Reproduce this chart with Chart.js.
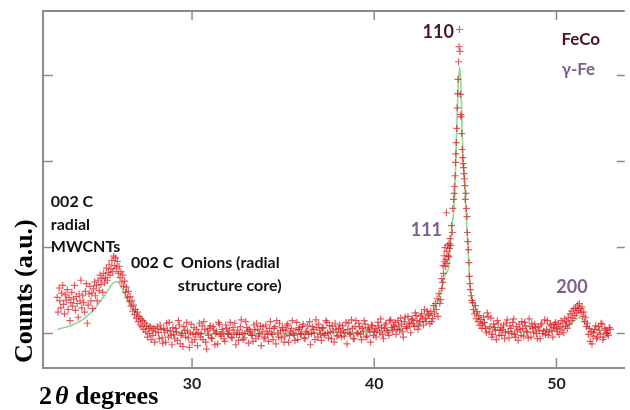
<!DOCTYPE html>
<html><head><meta charset="utf-8">
<script src="https://cdn.jsdelivr.net/npm/chart.js@4/dist/chart.umd.min.js"></script>
<style>html,body{margin:0;padding:0;background:#fff}#wrap{width:630px;height:410px;position:relative}</style>
</head><body><div id="wrap"><canvas id="c" width="630" height="410"></canvas></div>
<script>
// ---- data (2θ in degrees, counts in arbitrary units) ----
const scanAngles = [
 22.60,22.65,22.70,22.75,22.80,22.85,22.90,22.95,23.00,23.05,
 23.10,23.15,23.20,23.25,23.30,23.35,23.40,23.45,23.50,23.55,
 23.60,23.65,23.70,23.75,23.80,23.85,23.90,23.95,24.00,24.05,
 24.10,24.15,24.20,24.25,24.30,24.35,24.40,24.45,24.50,24.55,
 24.60,24.65,24.70,24.75,24.80,24.85,24.90,24.95,25.00,25.05,
 25.10,25.15,25.20,25.25,25.30,25.35,25.40,25.45,25.50,25.55,
 25.60,25.65,25.70,25.75,25.80,25.85,25.90,25.95,26.00,26.05,
 26.10,26.15,26.20,26.25,26.30,26.35,26.40,26.45,26.50,26.55,
 26.60,26.65,26.70,26.75,26.80,26.85,26.90,26.95,27.00,27.05,
 27.10,27.15,27.20,27.25,27.30,27.35,27.40,27.45,27.50,27.55,
 27.60,27.65,27.70,27.75,27.80,27.85,27.90,27.95,28.00,
 28.1,28.2,28.3,28.4,28.5,28.6,28.7,28.8,28.9,29.0,
 29.1,29.2,29.3,29.4,29.5,29.6,29.7,29.8,29.9,30.0,
 30.1,30.2,30.3,30.4,30.5,30.6,30.7,30.8,30.9,31.0,
 31.1,31.2,31.3,31.4,31.5,31.6,31.7,31.8,31.9,32.0,
 32.1,32.2,32.3,32.4,32.5,32.6,32.7,32.8,32.9,33.0,
 33.1,33.2,33.3,33.4,33.5,33.6,33.7,33.8,33.9,34.0,
 34.1,34.2,34.3,34.4,34.5,34.6,34.7,34.8,34.9,35.0,
 35.1,35.2,35.3,35.4,35.5,35.6,35.7,35.8,35.9,36.0,
 36.1,36.2,36.3,36.4,36.5,36.6,36.7,36.8,36.9,37.0,
 37.1,37.2,37.3,37.4,37.5,37.6,37.7,37.8,37.9,38.0,
 38.1,38.2,38.3,38.4,38.5,38.6,38.7,38.8,38.9,39.0,
 39.1,39.2,39.3,39.4,39.5,39.6,39.7,39.8,39.9,40.0,
 40.1,40.2,40.3,40.4,40.5,40.6,40.7,40.8,40.9,41.0,
 41.1,41.2,41.3,41.4,41.5,41.6,41.7,41.8,41.9,42.0,
 42.1,42.2,42.3,42.4,42.5,42.6,42.7,42.8,42.9,
 43.00,43.05,43.10,43.15,43.20,43.25,43.30,43.35,43.40,43.45,
 43.50,43.55,43.60,43.65,43.70,43.72,43.75,43.78,43.80,43.83,
 43.85,43.88,43.90,43.93,43.96,43.98,44.00,44.03,44.06,44.08,
 44.10,44.13,44.16,44.20,44.24,44.28,44.31,44.35,44.38,44.40,
 44.43,44.46,44.48,44.50,44.525,44.55,44.575,44.60,44.625,44.65,
 44.675,44.70,44.725,44.75,44.775,44.80,44.825,44.85,44.875,44.90,
 44.925,44.95,44.975,45.00,45.03,45.06,45.09,45.11,45.14,45.17,
 45.20,45.22,45.25,45.28,45.32,45.36,45.39,45.44,45.50,45.55,
 45.60,45.65,45.70,45.75,45.80,45.85,45.90,45.95,
 46.0,46.1,46.2,46.3,46.4,46.5,46.6,46.7,46.8,46.9,
 47.0,47.1,47.2,47.3,47.4,47.5,47.6,47.7,47.8,47.9,
 48.0,48.1,48.2,48.3,48.4,48.5,48.6,48.7,48.8,48.9,
 49.0,49.1,49.2,49.3,49.4,49.5,49.6,49.7,49.8,49.9,
 50.0,
 50.05,50.10,50.15,50.20,50.25,50.30,50.35,50.40,50.45,50.50,
 50.55,50.60,50.65,50.70,50.75,50.80,50.85,50.90,50.95,51.00,
 51.05,51.10,51.15,51.20,51.25,51.30,51.35,51.40,51.45,51.50,
 51.55,51.60,51.65,51.70,51.75,51.80,51.85,51.90,51.95,52.00,
 52.1,52.2,52.3,52.4,52.5,52.6,52.7,52.8,52.9,
 28.15,28.25,28.35,28.45,28.55,28.65,28.75,28.85,28.95,29.05,
 29.15,29.25,29.35,29.45,29.55,29.65,29.75,29.85,29.95,30.05,
 30.15,30.25,30.35,30.45,30.55,30.65,30.75,30.85,30.95,31.05,
 31.15,31.25,31.35,31.45,31.55,31.65,31.75,31.85,31.95,32.05,
 32.15,32.25,32.35,32.45,32.55,32.65,32.75,32.85,32.95,33.05,
 33.15,33.25,33.35,33.45,33.55,33.65,33.75,33.85,33.95,34.05,
 34.15,34.25,34.35,34.45,34.55,34.65,34.75,34.85,34.95,35.05,
 35.15,35.25,35.35,35.45,35.55,35.65,35.75,35.85,35.95,36.05,
 36.15,36.25,36.35,36.45,36.55,36.65,36.75,36.85,36.95,37.05,
 37.15,37.25,37.35,37.45,37.55,37.65,37.75,37.85,37.95,38.05,
 38.15,38.25,38.35,38.45,38.55,38.65,38.75,38.85,38.95,39.05,
 39.15,39.25,39.35,39.45,39.55,39.65,39.75,39.85,39.95,40.05,
 40.15,40.25,40.35,40.45,40.55,40.65,40.75,40.85,40.95,41.05,
 41.15,41.25,41.35,41.45,41.55,41.65,41.75,41.85,41.95,42.05,
 42.15,42.25,42.35,42.45,42.55,42.65,42.75,42.85,42.95,
 46.05,46.15,46.25,46.35,46.45,46.55,46.65,46.75,46.85,46.95,
 47.05,47.15,47.25,47.35,47.45,47.55,47.65,47.75,47.85,47.95,
 48.05,48.15,48.25,48.35,48.45,48.55,48.65,48.75,48.85,48.95,
 49.05,49.15,49.25,49.35,49.45,49.55,49.65,49.75,49.85,49.95,
 52.05,52.15,52.25,52.35,52.45,52.55,52.65,52.75,52.85,52.95
];
const scanCounts = [
 1420,1250,1530,1380,1300,1470,1560,1340,1230,1450,
 1390,1510,1280,1420,1150,1360,1480,1320,1400,1560,
 1270,1430,1350,1190,1460,1380,1620,1300,1440,1360,
 1250,1490,1580,1120,1330,1460,1550,1380,1470,1290,
 1520,1600,1440,1560,1380,1620,1500,1680,1570,1640,
 1480,1700,1590,1650,1760,1620,1710,1800,1680,1750,
 1850,1720,1900,1790,1880,1760,1840,1700,1780,1650,
 1720,1600,1680,1550,1610,1480,1540,1420,1490,1370,
 1430,1320,1380,1260,1330,1220,1280,1180,1250,1140,
 1200,1100,1170,1080,1150,1050,1120,1020,1090,960,
 1060,1000,1080,930,1040,980,1060,900,1020,
 1080,940,1050,890,1010,1120,960,1030,870,990,
 1060,920,1100,980,850,1040,1130,950,1010,900,
 1070,990,860,1120,1000,930,1050,820,980,1090,
 940,1040,1000,880,1110,970,1020,910,1060,990,
 1130,950,1010,870,1040,990,1160,930,1000,1070,
 890,1020,980,1100,940,1050,1000,860,1080,960,
 1030,910,1140,990,1060,880,1010,1120,950,1040,
 970,1090,900,1020,1150,980,1040,930,1070,1000,
 1110,940,1030,990,870,1080,1010,1160,960,1040,
 920,1070,1000,1130,950,1020,1090,900,1050,980,
 1100,960,1040,1010,880,1120,990,1060,940,1150,
 1000,1080,930,1030,1110,970,1050,900,1090,1020,
 960,1130,1010,1070,940,1100,1040,980,1160,1030,
 1080,990,1150,1040,1110,960,1190,1060,1120,1010,
 1170,1080,1210,1050,1140,1230,1100,1180,1260,
 1210,1115,1255,1140,1175,1325,1230,1350,1280,1405,
 1200,1465,1350,1395,1640,1525,1595,1790,1700,1905,
 1835,2000,1780,1860,2405,1955,1815,2025,1905,1895,
 2045,1990,2105,2025,2255,2175,2455,2560,2630,2710,
 2835,2990,3090,3220,3385,3625,3790,3955,4160,4335,
 4535,4280,3780,3545,3520,3325,3140,3045,2975,2930,
 2860,2800,2720,2560,2630,2455,2360,2175,2070,1975,
 1825,1665,1580,1510,1440,1385,1360,1280,1230,1325,
 1175,1255,1140,1210,1095,1165,1060,1115,
 1190,1060,1240,1020,1180,990,1070,930,1120,1040,
 980,1100,1010,1160,950,1060,1130,990,1080,920,
 1050,1140,970,1090,1010,1170,960,1060,1110,1000,
 1080,940,1120,1030,990,1150,1020,1090,960,1110,
 1060,
 1020,1110,990,1080,1150,1040,1120,1010,1170,1090,
 1140,1060,1190,1110,1230,1150,1260,1180,1290,1210,
 1300,1240,1330,1270,1350,1290,1250,1310,1200,1250,
 1140,1190,1080,1120,990,1060,910,1020,880,970,
 1050,940,1080,990,1110,960,1040,1000,1070,
 1010,1100,950,1060,900,1040,1130,980,1070,940,
 1020,1150,880,1000,1080,960,1030,840,1110,990,
 930,1050,1010,960,1090,1140,900,1030,1060,950,
 1080,870,1020,1130,990,1050,940,1100,1000,1040,
 960,1070,1120,990,920,1080,1010,950,1140,1030,
 1050,980,910,1040,1120,970,1090,1020,940,1100,
 990,1060,1010,930,1080,1150,960,1030,1070,900,
 1040,1110,980,1060,1000,920,1130,1050,990,1080,
 950,1020,1090,1140,1000,1050,930,1070,1110,990,
 1060,980,1150,1010,1090,940,1030,1120,970,1060,
 1020,1090,970,1130,1050,1000,1160,940,1080,1010,
 1120,990,1060,1150,960,1070,1030,1100,980,1060,
 1040,1090,1170,990,1060,1120,1010,1150,1070,1100,
 1130,1050,1090,1180,1020,1140,1080,1200,1110,1160,
 1120,1240,1150,1090,1200,1170,1280,1140,1230,
 1130,1010,1200,1080,960,1110,1040,1150,980,1070,
 1050,940,1120,1020,1090,1000,1170,960,1040,1110,
 980,1060,1130,1030,950,1080,1120,1010,1070,940,
 1040,1100,1000,1160,1050,980,1110,1030,1070,1130,
 1010,1090,960,1040,1120,930,1060,1010,980,1050
];
const fitAngles = [
 22.6,23.0,23.5,24.0,24.5,25.0,25.3,25.6,25.8,25.95,
 26.1,26.3,26.6,27.0,27.4,27.8,28.2,28.8,29.5,30.5,
 32,34,36,38,40,41,42,42.5,43.0,43.47,
 43.7,43.9,44.08,44.2,44.3,44.41,44.52,44.6,44.69,44.76,
 44.83,44.92,45.0,45.1,45.2,45.28,45.4,45.55,45.7,46.0,
 46.5,47,48,49,49.8,50.3,50.7,51.0,51.2,51.35,
 51.55,51.8,52.1,52.5,52.9
];
const fitCounts = [
 1047,1070,1105,1163,1255,1384,1475,1570,1605,1600,
 1545,1460,1350,1230,1145,1090,1055,1025,1010,1000,
 995,995,1000,1010,1020,1040,1080,1115,1190,1360,
 1530,1690,1770,2100,2300,2560,3320,3850,4100,3850,
 3320,2900,2560,2170,1750,1510,1390,1300,1200,1100,
 1050,1030,1020,1025,1040,1065,1100,1150,1185,1180,
 1120,1050,1015,1005,1000
];
const xTickValues = [30, 40, 50];
const yTickValues = [1000, 2000, 3000, 4000];
const peakLabels = ['002 C', 'radial', 'MWCNTs', '002 C  Onions (radial', 'structure core)', '110', '111', '200', 'FeCo', 'γ-Fe'];
const yTitle = 'Counts (a.u.)';
const xTitleParts = ['2', 'θ', ' degrees'];

// ---- layout / style (kept apart from the data) ----
const labelLayout = [
 {angle:22.25, count:2472, size:16, color:'#111'},
 {angle:22.25, count:2204, size:16, color:'#111'},
 {angle:22.25, count:1949, size:16, color:'#111'},
 {angle:26.65, count:1763, size:16, color:'#111'},
 {angle:29.21, count:1495, size:16, color:'#111'},
 {angle:42.65, count:4436, size:18, color:'#4a1526'},
 {angle:42.0,  count:2135, size:18, color:'#7d5f8f'},
 {angle:49.99, count:1472, size:18, color:'#7d5f8f'},
 {angle:50.27, count:4355, size:17, color:'#4a1526'},
 {angle:50.27, count:4006, size:17, color:'#7d5f8f'}
];
const AXIS = '#8c8c8c';

const decor = {
 id:'decor',
 afterDraw(chart){
  const {ctx, chartArea:a, scales:{x, y}} = chart;
  ctx.save();
  ctx.strokeStyle = AXIS;
  ctx.lineWidth = 2;
  ctx.beginPath(); ctx.moveTo(a.left - 1, a.top); ctx.lineTo(a.right, a.top); ctx.stroke();
  ctx.lineWidth = 1.5;
  yTickValues.forEach(v => {
   const p = y.getPixelForValue(v);
   ctx.beginPath();
   ctx.moveTo(a.left, p); ctx.lineTo(a.left + 10, p);
   ctx.moveTo(a.right, p); ctx.lineTo(a.right - 8, p);
   ctx.stroke();
  });
  xTickValues.forEach(v => {
   const p = x.getPixelForValue(v);
   ctx.beginPath();
   ctx.moveTo(p, a.bottom); ctx.lineTo(p, a.bottom - 10);
   ctx.moveTo(p, a.top); ctx.lineTo(p, a.top + 9);
   ctx.stroke();
  });
  ctx.textAlign = 'left'; ctx.textBaseline = 'alphabetic';
  peakLabels.forEach((t, i) => {
   const L = labelLayout[i];
   ctx.font = `bold ${L.size}px Lato`;
   ctx.fillStyle = L.color;
   ctx.fillText(t, x.getPixelForValue(L.angle), y.getPixelForValue(L.count));
  });
  // y axis title
  ctx.save();
  ctx.translate(32, a.bottom - 5);
  ctx.rotate(-Math.PI / 2);
  ctx.font = 'bold 26px "Liberation Serif"';
  ctx.fillStyle = '#000';
  ctx.fillText(yTitle, 0, 0);
  ctx.restore();
  // x axis title
  let tx = 39; const ty = 404;
  ctx.fillStyle = '#000';
  ctx.font = 'bold 26px "Liberation Serif"';
  ctx.fillText(xTitleParts[0], tx, ty); tx += ctx.measureText(xTitleParts[0]).width + 3;
  ctx.font = 'italic bold 26px "Liberation Serif"';
  ctx.fillText(xTitleParts[1], tx, ty); tx += ctx.measureText(xTitleParts[1]).width;
  ctx.font = 'bold 26px "Liberation Serif"';
  ctx.fillText(xTitleParts[2], tx, ty);
  ctx.restore();
 }
};

new Chart(document.getElementById('c'), {
 type:'scatter',
 data:{datasets:[
  {label:'Observed', data: scanAngles.map((a, i) => ({x:a, y:scanCounts[i]})),
   pointStyle:'cross', pointRadius:3.5, pointBorderWidth:1.2,
   borderColor:'rgba(222,22,30,0.72)', backgroundColor:'rgba(222,22,30,0.72)', showLine:false},
  {label:'Fit', data: fitAngles.map((a, i) => ({x:a, y:fitCounts[i]})),
   showLine:true, borderColor:'#8ed993', borderWidth:1.6, pointRadius:0,
   cubicInterpolationMode:'monotone', fill:false}
 ]},
 options:{
  responsive:false, animation:false, events:[],
  layout:{padding:{top:11, right:0, left:0, bottom:0}},
  plugins:{legend:{display:false}, tooltip:{enabled:false}},
  scales:{
   x:{type:'linear', min:21.82, max:53.75,
      afterBuildTicks:s => { s.ticks = xTickValues.map(v => ({value:v})); },
      afterFit:s => { s.height = 42; },
      grid:{display:false, drawTicks:false},
      border:{display:true, color:AXIS, width:2},
      ticks:{font:{family:'Lato', weight:'bold', size:16}, color:'#222', padding:6, callback:v => String(v)}},
   y:{type:'linear', min:600, max:4750,
      afterBuildTicks:s => { s.ticks = yTickValues.map(v => ({value:v})); },
      afterFit:s => { s.width = 43; },
      grid:{display:false, drawTicks:false},
      border:{display:true, color:AXIS, width:2},
      ticks:{display:false}}
  }
 },
 plugins:[decor]
});
</script>
</body></html>
